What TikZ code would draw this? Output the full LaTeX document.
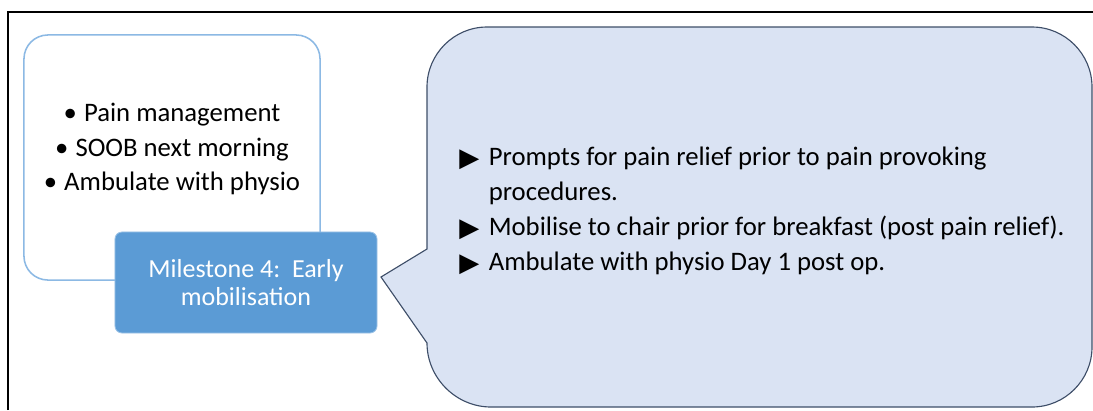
\documentclass[tikz,border=0pt]{standalone}
\usepackage{fontspec}
\setmainfont{Carlito}
\newfontfamily\symfont{DejaVu Sans}
\usetikzlibrary{positioning,calc}
\definecolor{boxblue}{RGB}{91,155,213}
\definecolor{lineblue}{RGB}{140,185,228}
\definecolor{calloutfill}{RGB}{218,227,243}
\definecolor{calloutline}{RGB}{62,78,104}

\newcommand{\tribullet}{\makebox[21pt][l]{\symfont\fontsize{18.5}{18}\selectfont\raisebox{-0.5pt}{▶}}}
\newcommand{\dotbullet}{\textbullet\hspace{5pt}}

\tikzset{
  goalbox/.style={draw=lineblue, line width=1.1pt, fill=white, rounded corners=17pt,
    minimum width=7.4cm, minimum height=6.125cm, inner sep=0pt},
  milestonebox/.style={draw=boxblue!60!white, line width=0.6pt, fill=boxblue, rounded corners=5pt,
    minimum width=6.55cm, minimum height=2.525cm, text=white, align=center,
    font=\fontsize{18.5}{20.5}\selectfont},
  calloutbox/.style={draw=calloutline, line width=0.8pt, fill=calloutfill},
  listtext/.style={inner sep=0pt, font=\fontsize{19}{24.8}\selectfont}
}

\begin{document}
\begin{tikzpicture}[x=0.025cm, y=-0.025cm]
\useasboundingbox (0,0) rectangle (1093,410);

% ================= FRAME =================
\draw[line width=1.6pt] (8,410) -- (8,12) -- (1093,12);

% ================= LEFT: GOALS =================
\node[goalbox] (goals) at (172,157.5) {};
\node[listtext, align=center] (goallist) at (172,149)
{\dotbullet Pain management\\
\dotbullet SOOB next morning\\
\dotbullet Ambulate with physio};

% ================= MILESTONE =================
\node[milestonebox] (milestone) at (246,282.5) {Milestone 4:\ \ Early\\mobilisation};

% ================= RIGHT: CALLOUT =================
\coordinate (tip) at (381,277);
\draw[calloutbox] (427,249) -- (tip) -- (427,343)
  .. controls (427,378) and (456,407) .. (491,407)
  -- (1032,407) .. controls (1065,407) and (1092,380) .. (1092,347)
  -- (1092,87) .. controls (1092,54) and (1065,27) .. (1032,27)
  -- (487,27) .. controls (454,27) and (427,54) .. (427,87)
  -- cycle;

\node[listtext, anchor=west, align=left] (steps) at (459,211)
{\tribullet Prompts for pain relief prior to pain provoking\\
\hspace*{21pt}procedures.\\
\tribullet Mobilise to chair prior for breakfast (post pain relief).\\
\tribullet Ambulate with physio Day 1 post op.};

\end{tikzpicture}
\end{document}
